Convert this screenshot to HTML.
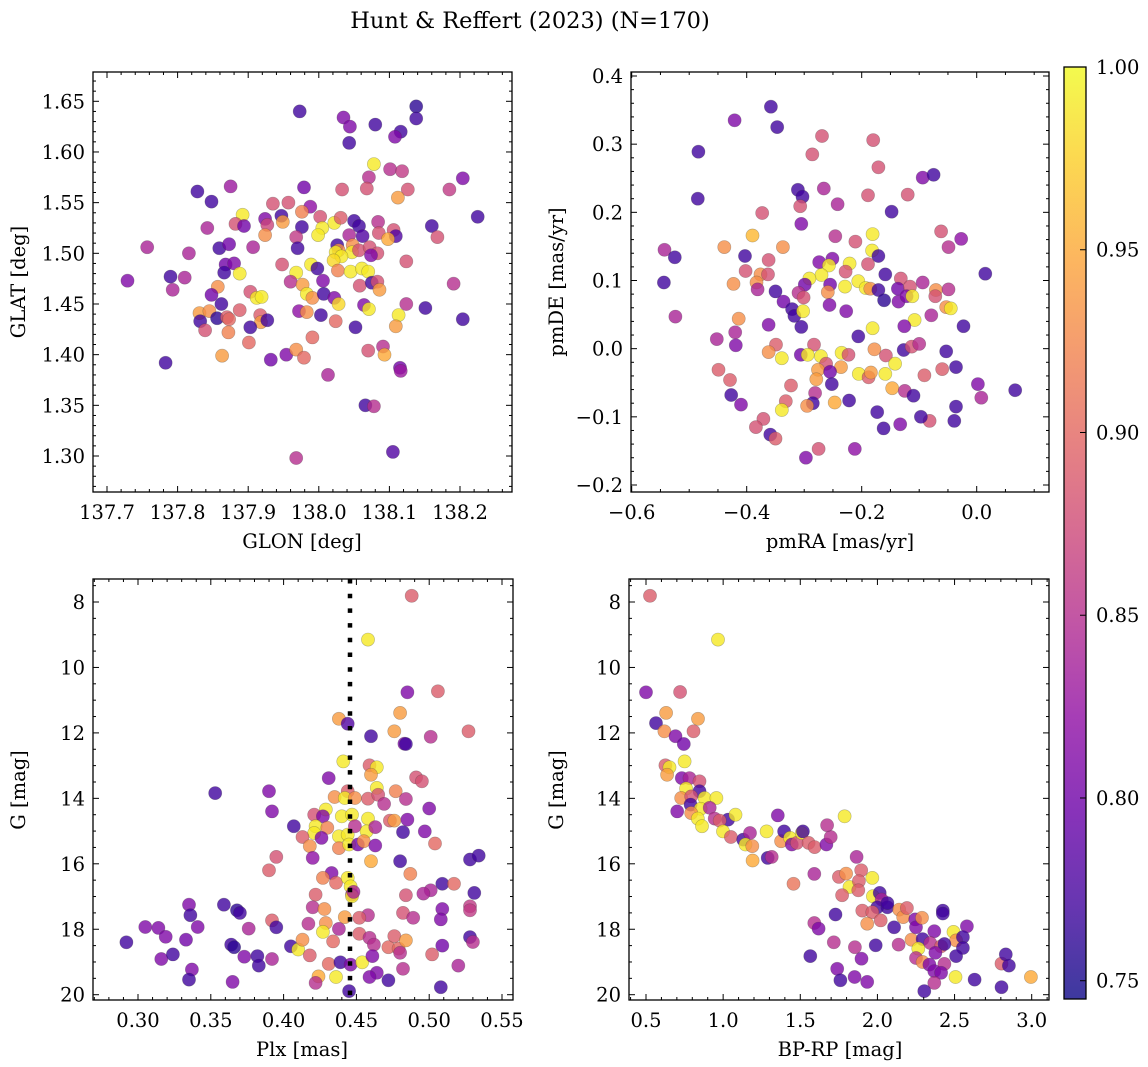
<!DOCTYPE html>
<html><head><meta charset="utf-8"><style>
html,body{margin:0;padding:0;background:#fff;}
svg{display:block;font-family:"DejaVu Serif","Liberation Serif",serif;}
</style></head><body>
<svg id="fig" width="1148" height="1067" viewBox="0 0 1148 1067" xmlns="http://www.w3.org/2000/svg">
<text x="530" y="28" text-anchor="middle" font-size="22.5">Hunt &amp; Reffert (2023) (N=170)</text>
<text x="302" y="548" text-anchor="middle" font-size="19.5">GLON [deg]</text>
<text transform="translate(25,282) rotate(-90)" text-anchor="middle" font-size="19.5">GLAT [deg]</text>
<text x="840" y="548" text-anchor="middle" font-size="19.5">pmRA [mas/yr]</text>
<text transform="translate(563,282) rotate(-90)" text-anchor="middle" font-size="19.5">pmDE [mas/yr]</text>
<text x="302" y="1056" text-anchor="middle" font-size="19.5">Plx [mas]</text>
<text transform="translate(25,790) rotate(-90)" text-anchor="middle" font-size="19.5">G [mag]</text>
<text x="840" y="1056" text-anchor="middle" font-size="19.5">BP-RP [mag]</text>
<text transform="translate(563,790) rotate(-90)" text-anchor="middle" font-size="19.5">G [mag]</text>
</svg>
<script>
// ---- data ----
const glon=[137.973,138.035,138.044,138.080,138.043,138.138,138.138,138.116,138.108,138.078,138.071,138.101,138.118,138.068,138.033,138.126,138.112,138.185,138.204,138.225,137.828,137.875,137.848,137.979,137.935,137.957,137.988,137.976,137.892,137.924,137.947,137.949,137.882,137.894,137.927,137.842,138.002,138.022,138.031,138.050,138.057,138.084,138.085,138.106,138.109,138.098,138.160,138.168,138.005,137.999,137.976,137.968,137.924,138.043,138.062,137.757,137.816,137.859,137.873,137.907,137.970,138.026,138.028,138.048,138.047,138.024,138.032,138.021,138.057,138.072,138.083,138.074,138.124,137.729,137.790,137.810,137.793,137.868,137.880,137.866,137.888,137.948,137.989,137.998,137.968,138.027,138.045,138.061,138.070,138.058,138.075,138.083,138.086,137.960,137.977,138.006,137.983,137.991,138.007,138.022,138.028,138.191,138.124,138.064,138.071,138.113,138.109,138.151,137.857,137.848,137.862,137.903,137.912,137.919,137.831,137.845,137.832,137.856,137.870,137.873,137.888,137.917,137.918,137.927,137.903,137.839,137.872,137.972,137.983,138.003,138.024,138.052,138.204,137.901,137.863,137.932,137.954,137.968,137.979,137.991,138.070,138.091,138.093,137.783,138.013,138.115,138.116,138.066,138.078,137.968,138.105];
const glat=[1.640,1.634,1.625,1.627,1.609,1.645,1.633,1.620,1.615,1.588,1.575,1.583,1.581,1.564,1.563,1.563,1.555,1.563,1.574,1.536,1.561,1.566,1.551,1.565,1.549,1.550,1.546,1.541,1.538,1.534,1.537,1.531,1.529,1.527,1.528,1.525,1.536,1.530,1.535,1.532,1.527,1.531,1.520,1.523,1.517,1.514,1.527,1.516,1.525,1.518,1.526,1.516,1.518,1.518,1.517,1.506,1.500,1.505,1.509,1.506,1.505,1.508,1.503,1.508,1.501,1.501,1.497,1.493,1.503,1.506,1.500,1.498,1.492,1.473,1.477,1.476,1.464,1.489,1.490,1.481,1.480,1.489,1.489,1.485,1.481,1.483,1.482,1.485,1.482,1.468,1.471,1.472,1.464,1.472,1.469,1.473,1.460,1.456,1.460,1.456,1.450,1.470,1.450,1.449,1.445,1.439,1.428,1.446,1.467,1.459,1.450,1.462,1.456,1.457,1.441,1.443,1.433,1.436,1.437,1.435,1.444,1.439,1.432,1.434,1.427,1.424,1.422,1.443,1.442,1.439,1.433,1.427,1.435,1.412,1.399,1.395,1.400,1.405,1.397,1.417,1.404,1.408,1.400,1.392,1.380,1.387,1.384,1.350,1.349,1.298,1.304];
const prob1=[.77,.81,.81,.77,.77,.76,.77,.77,.81,.99,.85,.85,.86,.88,.88,.88,.94,.86,.81,.77,.77,.83,.77,.80,.88,.88,.82,.92,.99,.81,.77,.94,.88,.80,.87,.84,.88,.99,.89,.77,.77,.85,.88,.88,.78,.95,.77,.88,.99,.99,.77,.86,.93,.84,.78,.84,.84,.77,.80,.84,.77,.77,.93,.93,.99,.99,.99,.98,.88,.88,.88,.81,.88,.81,.77,.84,.84,.80,.81,.77,.99,.88,.99,.77,.99,.92,.99,.99,.99,.88,.77,.88,.94,.85,.94,.81,.99,.93,.77,.81,.98,.85,.85,.81,.99,.99,.94,.77,.93,.80,.77,.88,.99,.99,.94,.93,.77,.76,.89,.90,.89,.89,.94,.77,.77,.88,.92,.82,.93,.77,.90,.77,.77,.90,.94,.80,.81,.93,.90,.90,.88,.85,.95,.77,.84,.80,.83,.77,.85,.85,.78];

const pmra=[-.358,-.421,-.347,-.484,-.269,-.286,-.180,-.171,-.094,-.075,-.485,-.311,-.303,-.307,-.266,-.242,-.189,-.120,-.148,-.373,-.305,-.390,-.439,-.337,-.246,-.211,-.181,-.182,-.171,-.062,-.049,-.027,-.543,-.525,-.544,-.524,-.403,-.362,-.402,-.376,-.363,-.383,-.381,-.423,-.274,-.251,-.257,-.221,-.189,-.228,-.270,-.291,-.299,-.255,-.229,-.206,-.193,-.185,-.171,-.159,-.132,-.137,-.116,-.094,-.071,-.049,-.350,-.310,-.301,-.259,-.336,-.321,-.317,-.302,-.256,-.227,-.161,-.136,-.122,-.112,-.072,-.053,-.045,-.079,-.023,.015,-.108,-.126,-.181,-.206,-.305,-.362,-.414,-.420,-.419,-.452,-.349,-.362,-.339,-.283,-.306,-.294,-.271,-.262,-.235,-.223,-.236,-.276,-.255,-.279,-.252,-.205,-.188,-.184,-.178,-.158,-.142,-.159,-.127,-.113,-.100,-.053,-.036,-.060,-.091,-.147,-.125,-.110,.002,.008,.067,-.036,-.039,-.082,-.097,-.133,-.162,-.173,-.222,-.247,-.281,-.285,-.295,-.323,-.332,-.339,-.449,-.429,-.427,-.410,-.371,-.384,-.359,-.350,-.297,-.275,-.212];
const pmde=[.355,.335,.325,.289,.312,.285,.306,.266,.251,.255,.220,.233,.223,.209,.235,.212,.225,.226,.201,.199,.183,.166,.149,.149,.165,.157,.168,.144,.136,.172,.149,.161,.145,.134,.097,.047,.136,.130,.114,.109,.109,.097,.087,.095,.127,.132,.122,.125,.124,.113,.108,.103,.094,.094,.091,.099,.089,.088,.086,.109,.103,.088,.091,.097,.086,.087,.084,.082,.075,.083,.069,.058,.048,.055,.064,.055,.071,.069,.077,.077,.077,.061,.059,.049,.033,.110,.042,.033,.030,.018,.032,.035,.044,.024,.005,.014,.006,-.005,-.014,.006,-.009,-.009,-.011,-.022,-.006,-.009,-.027,-.031,-.034,-.045,-.052,-.037,-.042,-.035,-.001,-.010,-.022,-.037,-.002,.003,.007,-.004,-.027,-.030,-.039,-.058,-.062,-.069,-.052,-.072,-.061,-.085,-.106,-.106,-.100,-.111,-.117,-.093,-.076,-.079,-.065,-.080,-.084,-.054,-.077,-.090,-.031,-.046,-.068,-.082,-.103,-.115,-.126,-.132,-.160,-.147,-.147];
const prob2=[.77,.81,.77,.77,.88,.88,.88,.88,.81,.77,.77,.77,.77,.88,.84,.84,.88,.88,.77,.88,.81,.96,.93,.93,.85,.88,.99,.99,.77,.88,.85,.82,.84,.77,.77,.84,.77,.88,.88,.93,.88,.93,.84,.93,.81,.81,.99,.99,.88,.88,.99,.99,.80,.80,.99,.99,.99,.93,.77,.77,.88,.80,.88,.84,.93,.85,.77,.85,.88,.93,.80,.77,.77,.99,.81,.81,.76,.81,.81,.99,.88,.93,.99,.84,.77,.77,.99,.81,.99,.77,.77,.81,.93,.84,.81,.84,.89,.93,.99,.88,.80,.99,.99,.88,.99,.88,.94,.94,.80,.94,.77,.99,.89,.94,.93,.88,.99,.99,.77,.88,.85,.77,.77,.89,.89,.95,.85,.77,.81,.84,.77,.77,.77,.88,.77,.81,.77,.77,.77,.95,.85,.77,.93,.89,.89,.99,.89,.89,.77,.81,.88,.88,.77,.89,.81,.88,.82];

const plx=[.488,.458,.485,.506,.480,.438,.444,.476,.527,.460,.501,.483,.484,.441,.459,.464,.460,.431,.491,.495,.353,.390,.464,.444,.435,.442,.449,.458,.465,.469,.477,.484,.500,.392,.429,.421,.427,.440,.447,.458,.473,.476,.485,.407,.422,.421,.430,.438,.444,.449,.457,.463,.482,.497,.413,.418,.426,.438,.445,.451,.455,.463,.504,.395,.420,.460,.480,.528,.534,.390,.433,.427,.436,.444,.446,.487,.509,.517,.501,.496,.531,.422,.447,.447,.484,.335,.336,.359,.368,.370,.420,.428,.458,.482,.489,.509,.528,.528,.508,.305,.314,.319,.292,.333,.341,.316,.324,.337,.335,.365,.364,.366,.376,.392,.395,.373,.382,.383,.392,.405,.410,.413,.417,.429,.427,.434,.438,.442,.452,.448,.452,.459,.462,.472,.476,.479,.480,.484,.502,.509,.528,.530,.418,.431,.439,.446,.454,.461,.464,.459,.472,.482,.520,.508,.424,.422,.436,.445];
const gmag3=[7.81,9.15,10.76,10.73,11.39,11.57,11.72,11.95,11.95,12.10,12.12,12.33,12.34,12.87,12.99,13.05,13.28,13.38,13.36,13.48,13.84,13.78,13.68,13.78,13.96,13.99,13.99,14.01,13.89,14.17,13.78,14.02,14.31,14.40,14.34,14.50,14.55,14.55,14.50,14.62,14.68,14.68,14.65,14.85,14.85,15.06,14.90,15.16,15.11,14.85,15.01,14.88,15.03,15.01,15.18,15.46,15.21,15.52,15.41,15.41,15.31,15.44,15.38,15.79,15.82,15.92,15.92,15.87,15.75,16.20,16.28,16.43,16.58,16.43,16.69,16.31,16.61,16.61,16.81,16.91,16.89,16.94,16.94,16.99,16.96,17.25,17.57,17.25,17.42,17.50,17.33,17.38,17.57,17.50,17.65,17.38,17.30,17.42,17.70,17.93,17.96,18.23,18.40,18.32,17.93,18.91,18.77,19.23,19.54,19.61,18.47,18.55,17.98,17.73,17.94,18.84,18.82,19.11,18.91,18.52,18.62,18.32,17.83,17.81,18.08,18.37,17.99,17.63,17.65,16.86,18.14,18.26,18.47,18.55,18.21,18.59,18.72,18.34,18.77,18.50,18.24,18.39,18.80,19.06,19.01,19.08,19.01,18.82,19.33,19.46,19.56,19.21,19.11,19.77,19.44,19.64,19.46,19.89];
const prob3=[.89,.99,.81,.89,.94,.94,.78,.94,.89,.77,.85,.81,.77,.99,.89,.99,.94,.81,.88,.88,.77,.81,.99,.89,.93,.99,.93,.89,.88,.85,.92,.85,.81,.81,.99,.88,.81,.99,.99,.99,.89,.94,.81,.77,.99,.99,.92,.99,.99,.85,.99,.84,.77,.81,.89,.93,.81,.92,.99,.80,.93,.81,.90,.88,.82,.95,.77,.77,.77,.89,.81,.92,.90,.99,.99,.92,.77,.90,.84,.84,.77,.89,.84,.99,.88,.81,.77,.77,.76,.77,.85,.93,.85,.88,.85,.81,.86,.86,.81,.81,.81,.81,.77,.80,.81,.81,.77,.81,.77,.81,.77,.76,.84,.89,.77,.81,.77,.77,.84,.77,.99,.93,.85,.93,.99,.90,.84,.94,.89,.84,.89,.85,.85,.90,.89,.90,.85,.94,.89,.80,.77,.85,.89,.90,.77,.81,.99,.81,.81,.81,.77,.85,.84,.77,.95,.85,.99,.77];

const bprp=[.526,.967,.500,.721,.630,.837,.565,.619,.808,.691,.745,.750,.626,.652,.637,.732,.782,.847,.760,.847,.728,.793,.880,.956,.789,.854,.913,.702,.793,.836,.863,.945,1.032,.978,1.080,.999,1.050,1.130,1.174,1.145,1.189,1.191,1.282,1.289,1.315,1.354,1.376,1.395,1.434,1.445,1.478,1.510,1.517,1.554,1.593,1.669,1.697,1.674,1.787,1.456,1.591,1.865,1.895,1.750,1.797,1.819,1.771,1.880,1.876,1.967,1.971,2.015,2.028,1.999,2.065,2.065,1.902,1.967,2.021,1.934,2.141,2.167,2.191,2.108,2.245,2.250,2.289,2.424,2.424,2.369,2.580,2.493,2.510,2.554,2.554,2.221,2.293,2.265,2.343,2.413,2.434,2.376,2.250,2.293,2.337,2.434,2.510,2.369,2.413,2.369,2.304,2.506,2.630,2.804,2.804,2.832,2.852,2.995,2.137,1.989,1.854,1.897,1.717,1.728,1.591,1.619,1.565,1.739,1.760,1.852,1.934];
const gmag4=[7.81,9.15,10.76,10.75,11.39,11.57,11.70,11.95,11.95,12.10,12.34,12.87,12.99,13.05,13.28,13.38,13.38,13.48,13.70,13.78,13.99,13.94,13.99,13.99,14.19,14.32,14.29,14.40,14.45,14.62,14.85,14.62,14.65,14.68,14.50,15.01,15.18,15.26,15.06,15.41,15.46,15.90,15.01,15.82,15.79,14.52,15.31,15.01,15.21,15.41,15.36,15.06,15.01,15.36,15.49,15.41,15.18,14.82,14.55,16.61,16.31,15.79,16.20,16.40,16.30,16.71,16.96,16.53,16.81,16.43,16.99,16.89,17.09,17.33,17.33,17.20,17.43,17.48,17.73,17.83,17.40,17.63,17.35,17.94,17.70,17.94,17.65,17.43,17.52,18.06,17.91,18.08,18.34,18.24,18.57,18.32,18.30,18.59,18.42,18.52,18.45,18.72,18.88,19.00,19.08,19.06,18.82,19.28,19.33,19.64,19.89,19.46,19.54,19.77,19.05,18.77,19.11,19.46,18.47,18.49,18.55,18.90,18.40,17.55,17.81,17.98,18.82,19.21,19.56,19.46,19.61];
const prob4=[.89,.99,.81,.88,.94,.94,.77,.93,.89,.81,.80,.99,.89,.99,.94,.81,.84,.88,.99,.77,.93,.88,.99,.99,.77,.99,.84,.81,.93,.99,.99,.85,.77,.89,.99,.99,.89,.77,.84,.99,.93,.95,.99,.77,.85,.81,.93,.77,.99,.81,.88,.99,.77,.89,.89,.81,.85,.85,.99,.91,.84,.84,.89,.89,.93,.99,.89,.89,.89,.99,.99,.77,.84,.77,.77,.77,.89,.89,.89,.93,.93,.93,.89,.77,.81,.81,.93,.77,.77,.81,.81,.99,.93,.77,.77,.93,.77,.99,.85,.89,.77,.81,.85,.93,.81,.85,.77,.81,.81,.85,.77,.99,.77,.77,.89,.77,.77,.95,.85,.77,.85,.81,.85,.77,.85,.81,.77,.81,.77,.81,.81];

const p1XTicks=[137.7,137.8,137.9,138.0,138.1,138.2];
const p1YTicks=[1.30,1.35,1.40,1.45,1.50,1.55,1.60,1.65];
const p2XTicks=[-0.6,-0.4,-0.2,0.0];
const p2YTicks=[-0.2,-0.1,0.0,0.1,0.2,0.3,0.4];
const p3XTicks=[0.30,0.35,0.40,0.45,0.50,0.55];
const gYTicks=[8,10,12,14,16,18,20];
const p4XTicks=[0.5,1.0,1.5,2.0,2.5,3.0];
const cbTicks=[0.75,0.80,0.85,0.90,0.95,1.00];
const plxCut=[0.4456];

// ---- rendering ----
const NS='http://www.w3.org/2000/svg';
const svg=document.getElementById('fig');
function mk(tag,attrs,parent){const e=document.createElementNS(NS,tag);for(const k in attrs)e.setAttribute(k,attrs[k]);(parent||svg).appendChild(e);return e;}
function lin(v0,p0,v1,p1){const f=v=>p0+(v-v0)*(p1-p0)/(v1-v0);f.inv=p=>v0+(p-p0)*(v1-v0)/(p1-p0);return f;}
const stops=[[13,8,135],[65,4,157],[106,0,168],[143,13,164],[177,42,144],[204,71,120],[225,100,98],[242,132,75],[252,166,54],[252,206,37],[240,249,33]];
const PMIN=0.745,PMAX=1.0;
const FS=19.5;
function cmap(p){let t=(p-PMIN)/(PMAX-PMIN);t=Math.max(0,Math.min(1,t))*10;const i=Math.min(9,Math.floor(t)),f=t-i;const a=stops[i],b=stops[i+1];return 'rgb('+[0,1,2].map(k=>Math.round(a[k]+(b[k]-a[k])*f)).join(',')+')';}
function fmt(v,d){const s=Math.abs(v).toFixed(d);return (v<-1e-9?'\u2212':'')+s;}

function panel(cfg){
  const g=mk('g',{});
  
  
  const {x0,x1,y0,y1,sx,sy}=cfg;
  const clipId=cfg.name+'-clip';
  const cp=mk('clipPath',{id:clipId},g);mk('rect',{x:x0,y:y0,width:x1-x0,height:y1-y0},cp);
  const pts=mk('g',{'clip-path':'url(#'+clipId+')'},g);
  
  
  for(let i=0;i<cfg.xs.length;i++){
    const c=mk('circle',{cx:sx(cfg.xs[i]).toFixed(1),cy:sy(cfg.ys[i]).toFixed(1),r:6.6,fill:cmap(cfg.ps[i]),'fill-opacity':0.8,stroke:'rgba(60,60,60,0.35)','stroke-width':0.6},pts);
    
    
  }
  if(cfg.vline){for(const v of cfg.vline){const l=mk('line',{x1:sx(v),x2:sx(v),y1:y0,y2:y1,stroke:'#000','stroke-width':4.5,'stroke-dasharray':'4.5 10.2'},g);
    
    }}
  const tk=mk('g',{stroke:'#000','stroke-width':1},g);
  const isMaj=(v,arr)=>arr.some(m=>Math.abs(m-v)<1e-6);
  function xt(v,len){const p=sx(v);if(p<x0+0.5||p>x1-0.5)return;mk('line',{x1:p,x2:p,y1:y1,y2:y1-len},tk);mk('line',{x1:p,x2:p,y1:y0,y2:y0+len},tk);}
  function yt(v,len){const p=sy(v);if(p<y0+0.5||p>y1-0.5)return;mk('line',{x1:x0,x2:x0+len,y1:p,y2:p},tk);mk('line',{x1:x1,x2:x1-len,y1:p,y2:p},tk);}
  let a=Math.min(sx.inv(x0),sx.inv(x1)),b=Math.max(sx.inv(x0),sx.inv(x1));
  for(let v=Math.ceil(a/cfg.xminor)*cfg.xminor;v<=b;v+=cfg.xminor){if(!isMaj(v,cfg.xt))xt(v,3);}
  a=Math.min(sy.inv(y0),sy.inv(y1));b=Math.max(sy.inv(y0),sy.inv(y1));
  for(let v=Math.ceil(a/cfg.yminor)*cfg.yminor;v<=b;v+=cfg.yminor){if(!isMaj(v,cfg.yt))yt(v,3);}
  for(const v of cfg.xt){xt(v,6);const p=sx(v);const t=mk('text',{x:p,y:y1+27,'text-anchor':'middle','font-size':FS},g);t.textContent=fmt(v,cfg.xd);
    
    }
  for(const v of cfg.yt){yt(v,6);const p=sy(v);const t=mk('text',{x:x0-8,y:p+7,'text-anchor':'end','font-size':FS},g);t.textContent=fmt(v,cfg.yd);
    
    }
  const fr=mk('rect',{x:x0,y:y0,width:x1-x0,height:y1-y0,fill:'none',stroke:'#000','stroke-width':1.3},g);
  
  
}
panel({name:'glon-glat-panel',x0:93,x1:512,y0:72,y1:492,sx:lin(137.7,107,138.2,460),sy:lin(1.65,101.3,1.30,456),xs:glon,ys:glat,ps:prob1,xt:p1XTicks,yt:p1YTicks,xminor:0.02,yminor:0.01,xd:1,yd:2});
panel({name:'pm-panel',x0:631,x1:1049,y0:72,y1:492,sx:lin(-0.6,631.7,0.0,976.7),sy:lin(0.4,76,-0.2,485),xs:pmra,ys:pmde,ps:prob2,xt:p2XTicks,yt:p2YTicks,xminor:0.05,yminor:0.02,xd:1,yd:1});
panel({name:'plx-g-panel',x0:93,x1:513,y0:579,y1:1000,sx:lin(0.30,138,0.55,502),sy:lin(8,602,20,994.7),xs:plx,ys:gmag3,ps:prob3,xt:p3XTicks,yt:gYTicks,xminor:0.01,yminor:0.5,xd:2,yd:0,vline:plxCut});
panel({name:'cmd-panel',x0:629,x1:1049,y0:579,y1:1000,sx:lin(0.5,646,3.0,1031.7),sy:lin(8,602,20,994.7),xs:bprp,ys:gmag4,ps:prob4,xt:p4XTicks,yt:gYTicks,xminor:0.1,yminor:0.5,xd:1,yd:0});

// colorbar
const cb=mk('g',{});


const defs=mk('defs',{},cb);
const lg=mk('linearGradient',{id:'plasmaGrad',x1:0,y1:1,x2:0,y2:0},defs);
stops.forEach((s,i)=>mk('stop',{offset:(i/10),'stop-color':'rgb('+s.join(',')+')'},lg));
const cy0=67,cy1=999,cx0=1064,cx1=1086;
mk('rect',{x:cx0,y:cy0,width:cx1-cx0,height:cy1-cy0,fill:'url(#plasmaGrad)','fill-opacity':0.8},cb);
const cs=lin(PMIN,cy1,PMAX,cy0);
for(const v of cbTicks){const p=cs(v);mk('line',{x1:cx1,x2:cx1-6,y1:p,y2:p,stroke:'#000','stroke-width':1},cb);
  const t=mk('text',{x:cx1+10,y:p+7,'font-size':FS},cb);t.textContent=v.toFixed(2);
  
  }
mk('rect',{x:cx0,y:cy0,width:cx1-cx0,height:cy1-cy0,fill:'none',stroke:'#000','stroke-width':1.3},cb);
</script>
</body></html>
